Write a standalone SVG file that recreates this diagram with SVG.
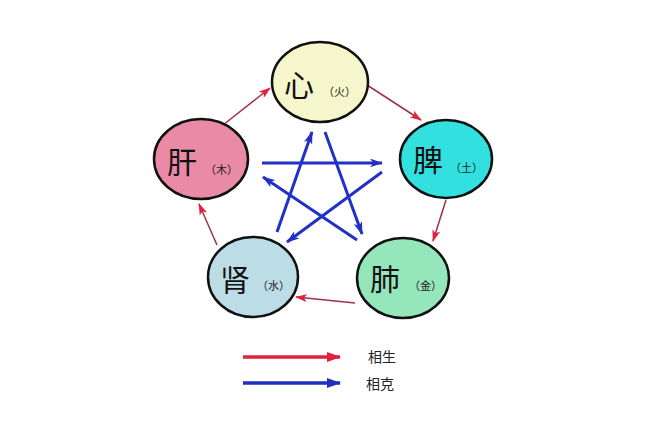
<svg xmlns="http://www.w3.org/2000/svg" width="658" height="422" viewBox="0 0 658 422">
<defs>
<marker id="ar" viewBox="0 0 12 8" refX="11" refY="4" markerWidth="12" markerHeight="8" markerUnits="userSpaceOnUse" orient="auto"><path d="M0,0 L12,4 L0,8 L3,4 Z" fill="#e0203c"/></marker>
<marker id="ab" viewBox="0 0 12 8" refX="11" refY="4" markerWidth="13" markerHeight="9" markerUnits="userSpaceOnUse" orient="auto"><path d="M0,0 L12,4 L0,8 L3,4 Z" fill="#2030c8"/></marker>
<marker id="lr" viewBox="0 0 14 10" refX="13" refY="5" markerWidth="14" markerHeight="10" markerUnits="userSpaceOnUse" orient="auto"><path d="M0,0 L14,5 L0,10 Z" fill="#e0203c"/></marker>
<marker id="lb" viewBox="0 0 14 10" refX="13" refY="5" markerWidth="14" markerHeight="10" markerUnits="userSpaceOnUse" orient="auto"><path d="M0,0 L14,5 L0,10 Z" fill="#1f2fc0"/></marker>
</defs>
<style>
.n{stroke:#111;stroke-width:2.5}
.big{font-family:"Noto Sans CJK SC",sans-serif;font-size:30px;fill:#111}
.sm{font-family:"Noto Sans CJK SC",sans-serif;font-size:11px;fill:#222}
.r{stroke:#a0304a;stroke-width:1.5;fill:none;marker-end:url(#ar)}
.b{stroke:#2030c8;stroke-width:3;fill:none;marker-end:url(#ab)}
.lg{font-family:"Noto Sans CJK SC",sans-serif;font-size:14px;fill:#222}
</style>
<rect width="658" height="422" fill="#fff"/>
<g id="connectors">
<line class="r" x1="367" y1="85" x2="421" y2="120"/>
<line class="r" x1="446" y1="200" x2="433" y2="241"/>
<line class="r" x1="355" y1="303" x2="296" y2="297"/>
<line class="r" x1="217" y1="245" x2="199" y2="204"/>
<line class="r" x1="223" y1="125" x2="270" y2="88"/>
<line class="b" x1="262" y1="163" x2="382" y2="163"/>
<line class="b" x1="325" y1="132" x2="362" y2="234"/>
<line class="b" x1="382" y1="172" x2="287" y2="242"/>
<line class="b" x1="357" y1="240" x2="263" y2="177"/>
<line class="b" x1="277" y1="232" x2="312" y2="132"/>
</g>
<g id="xin"><ellipse class="n" cx="320" cy="82" rx="48" ry="40" fill="#f6f6cc"/><text class="big" x="284" y="96">心</text><text class="sm" x="323" y="96">（火）</text></g>
<g id="gan"><ellipse class="n" cx="201" cy="159" rx="47" ry="40" fill="#e98aa6"/><text class="big" x="167" y="173">肝</text><text class="sm" x="205" y="174">（木）</text></g>
<g id="pi"><ellipse class="n" cx="446" cy="159" rx="46" ry="39" fill="#33e0e0"/><text class="big" x="413" y="171">脾</text><text class="sm" x="450" y="172">（土）</text></g>
<g id="shen"><ellipse class="n" cx="253" cy="277" rx="45" ry="40" fill="#bcdde6"/><text class="big" x="220" y="291">肾</text><text class="sm" x="257" y="290">（水）</text></g>
<g id="fei"><ellipse class="n" cx="403" cy="278" rx="46" ry="40" fill="#96e6bc"/><text class="big" x="370" y="290">肺</text><text class="sm" x="409" y="290">（金）</text></g>
<g id="legend">
<line x1="243" y1="357" x2="340" y2="357" stroke="#e0203c" stroke-width="3.5" marker-end="url(#lr)"/>
<line x1="243" y1="383" x2="340" y2="383" stroke="#1f2fc0" stroke-width="3.5" marker-end="url(#lb)"/>
<text class="lg" x="368" y="362">相生</text>
<text class="lg" x="366" y="389">相克</text>
</g>
</svg>
